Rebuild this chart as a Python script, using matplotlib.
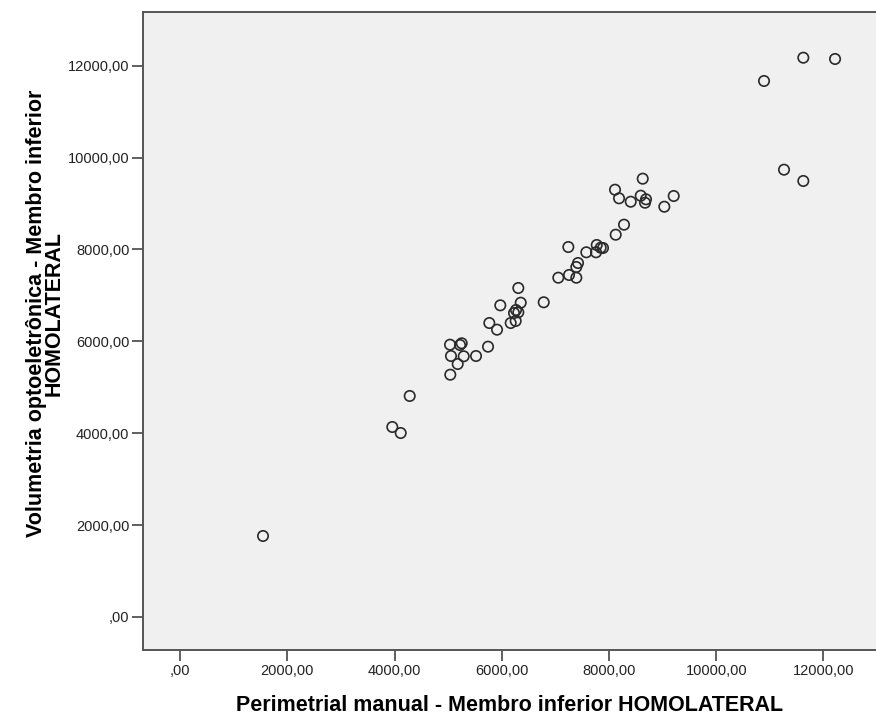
import matplotlib.pyplot as plt

# perimetria manual (x) vs volumetria optoeletrônica (y), membro inferior homolateral
perimetria = [1545, 3957, 4114, 4282, 5039, 5052, 5034, 5252, 5220, 5177,
              5289, 5519, 5743, 5767, 5911, 5972, 6166, 6228, 6308, 6259,
              6265, 6308, 6353, 6782, 7054, 7241, 7254, 7390, 7422, 7390,
              7577, 7758, 7771, 7845, 7888, 8125, 8280, 8112, 8187, 8405,
              8592, 8629, 8690, 8672, 9032, 9207, 10892, 11265, 11625, 11625,
              12217]
volumetria = [1763, 4135, 4004, 4810, 5273, 5680, 5926, 5957, 5920, 5506,
              5674, 5680, 5883, 6398, 6253, 6783, 6398, 6616, 6631, 6442,
              6681, 7160, 6840, 6849, 7384, 8052, 7443, 7617, 7704, 7384,
              7937, 7937, 8096, 8037, 8031, 8320, 8538, 9299, 9112, 9038,
              9169, 9539, 9090, 9016, 8929, 9162, 11665, 9735, 12172, 9489,
              12144]

ticks = [0, 2000, 4000, 6000, 8000, 10000, 12000]
tick_labels = [",00", "2000,00", "4000,00", "6000,00", "8000,00", "10000,00", "12000,00"]

plt.rcParams['font.family'] = ['Liberation Sans', 'DejaVu Sans']

fig = plt.figure(figsize=(8.76, 7.16), dpi=100)
ax = fig.add_axes([0.1636, 0.0922, 0.8364, 0.891])
ax.set_facecolor('#f0f0f0')

ax.scatter(perimetria, volumetria, s=56, facecolors='none', edgecolors='#2a2a2a',
           linewidths=1.2, zorder=3)

ax.set_xlim(-688, 12981)
ax.set_ylim(-718, 13166)
ax.set_xticks(ticks)
ax.set_xticklabels(tick_labels)
ax.set_yticks(ticks)
ax.set_yticklabels(tick_labels)
ax.tick_params(direction='out', length=8, width=1.2, color='#444444',
               labelsize=10.5, labelcolor='#222222', pad=2)

for side in ['left', 'bottom', 'top']:
    ax.spines[side].set_color('#555555')
    ax.spines[side].set_linewidth(1.4)
ax.spines['right'].set_visible(False)

ax.set_xlabel("Perimetrial manual - Membro inferior HOMOLATERAL",
              fontsize=15.5, fontweight='bold', labelpad=12)
ax.set_ylabel("Volumetria optoeletrônica - Membro inferior\nHOMOLATERAL",
              fontsize=15.5, fontweight='bold', labelpad=2, linespacing=0.82)
ax.yaxis.label.set_y(0.527)

plt.savefig('out.png', dpi=100)
